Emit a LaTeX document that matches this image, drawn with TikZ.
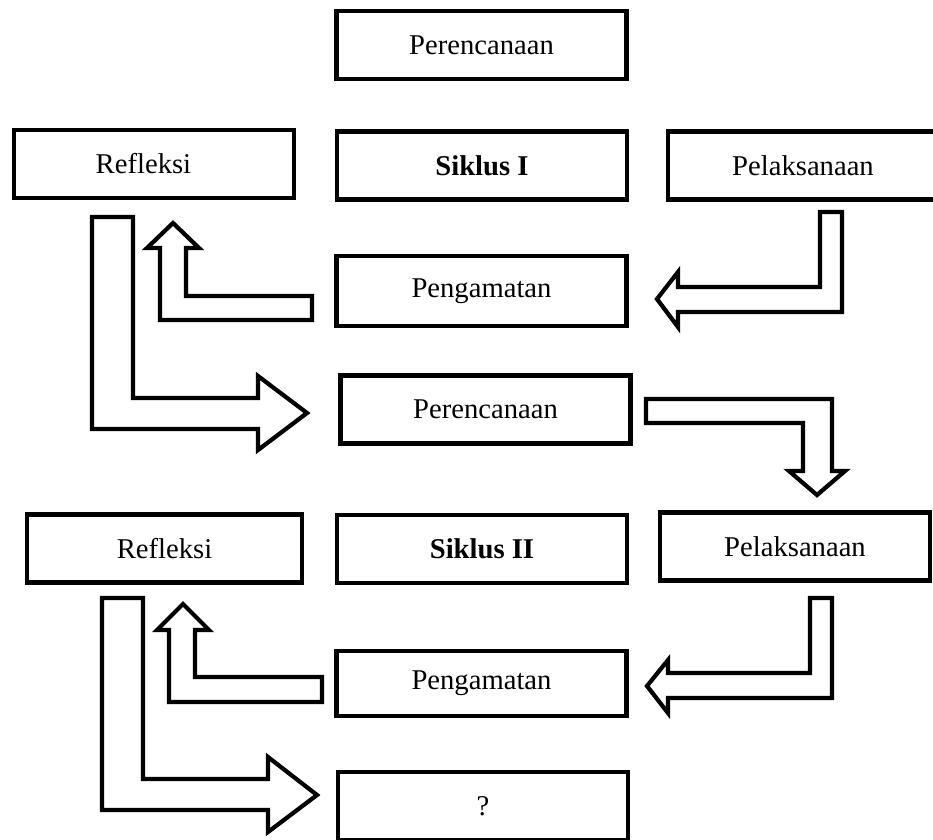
\documentclass[tikz,border=0pt]{standalone}
\usepackage{fontspec}
\setmainfont{Liberation Serif}

\tikzset{
  kotak/.style={draw, line width=2.6pt, minimum width=5.8cm, minimum height=1.36cm,
    inner sep=0pt, font=\fontsize{16.3}{19}\selectfont},
  panah/.style={draw, line width=2.4pt, line join=miter},
}

\begin{document}
\begin{tikzpicture}[x=0.02cm,y=-0.02cm]
   \useasboundingbox (0,0) rectangle (933,839);

   % siklus I
   \draw (481.5,45) node[kotak] (rencana1) {Perencanaan};
   \draw (154,164) node[kotak,minimum width=5.6cm] (refleksi1) {\hspace*{-12pt}Refleksi};
   \draw (482,165.5) node[kotak] (siklus1) {\textbf{Siklus I}};
   \draw (803,165.5) node[kotak,minimum width=5.4cm] (laksana1) {Pelaksanaan};
   \draw (481.5,291) node[kotak,minimum height=1.4cm] (amat1) {Pengamatan};

   % siklus II
   \draw (485.5,409.5) node[kotak] (rencana2) {Perencanaan};
   \draw (164.5,548.5) node[kotak,minimum width=5.5cm] (refleksi2) {Refleksi};
   \draw (482,549) node[kotak] (siklus2) {\textbf{Siklus II}};
   \draw (795,546.5) node[kotak,minimum width=5.4cm] (laksana2) {Pelaksanaan};
   \draw (481.5,683.5) node[kotak,minimum height=1.3cm] (amat2) {Pengamatan};
   \draw (483,806) node[kotak] (tanya) {?};

   % panah siklus I
   \draw[panah] (820,212) -- (842,212) -- (842,312) -- (678,312) -- (678,327)
     -- (657,299) -- (678,272) -- (678,287) -- (820,287) -- cycle;
   \draw[panah] (312,296) -- (186,296) -- (186,248) -- (199,248) -- (173,223)
     -- (147,248) -- (160,248) -- (160,320) -- (312,320) -- cycle;
   \draw[panah] (92,217) -- (133,217) -- (133,398) -- (258,398) -- (258,376)
     -- (307,413) -- (258,450) -- (258,429) -- (92,429) -- cycle;
   \draw[panah] (646,399) -- (832,399) -- (832,471) -- (845,471) -- (817,495)
     -- (789,471) -- (803,471) -- (803,423) -- (646,423) -- cycle;

   % panah siklus II
   \draw[panah] (810,598) -- (832,598) -- (832,698) -- (668,698) -- (668,713)
     -- (647,686) -- (668,660) -- (668,673) -- (810,673) -- cycle;
   \draw[panah] (322,677) -- (195,677) -- (195,630) -- (209,630) -- (183,604)
     -- (157,630) -- (169,630) -- (169,702) -- (322,702) -- cycle;
   \draw[panah] (102,598) -- (143,598) -- (143,779) -- (268,779) -- (268,757)
     -- (317,795) -- (268,832) -- (268,810) -- (102,810) -- cycle;

\end{tikzpicture}
\end{document}
